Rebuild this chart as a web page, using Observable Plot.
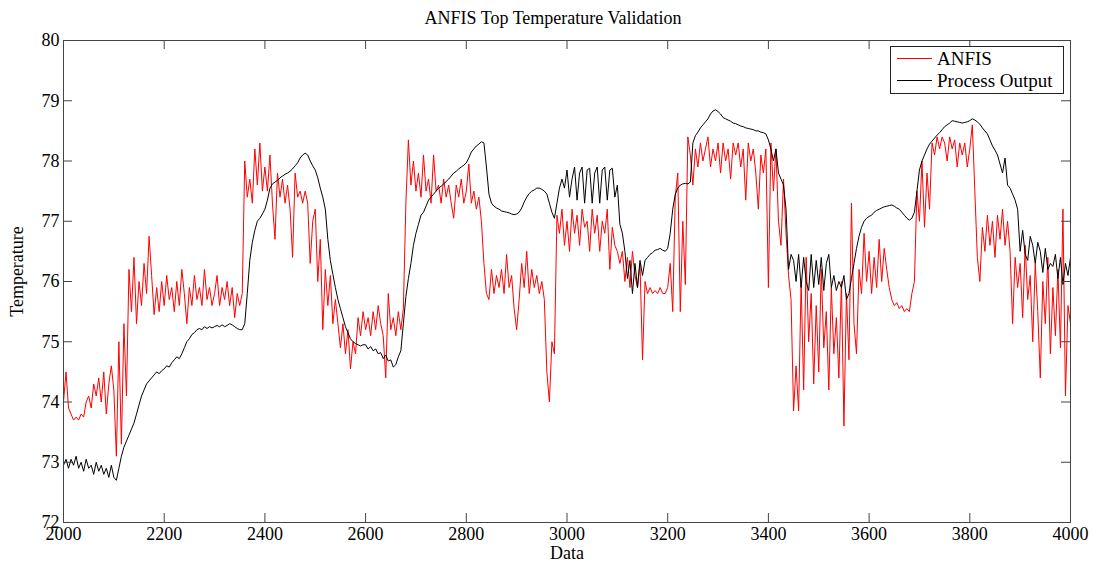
<!DOCTYPE html>
<html>
<head>
<meta charset="utf-8">
<script src="https://cdn.jsdelivr.net/npm/d3@7"></script>
<script src="https://cdn.jsdelivr.net/npm/@observablehq/plot@0.6"></script>
<style>
  html, body { margin: 0; padding: 0; background: #fff; }
  #chart svg { display: block; }
</style>
</head>
<body>
<div id="chart"></div>
<script>
// Samples are taken every 5 data points from 2000 to 4000
const xStart = 2000;
const xStep = 5;

// ANFIS model output (top temperature)
const anfis = [
  74.0, 74.5, 73.9, 73.8, 73.7, 73.75, 73.7, 73.8, 73.75, 74.0, 74.1, 73.9, 74.3, 74.1, 74.4, 74.0, 74.5, 73.8, 74.3, 74.6,
  74.2, 73.1, 75.0, 73.3, 75.3, 74.1, 76.2, 75.5, 76.4, 75.3, 76.0, 75.6, 76.3, 75.8, 76.75, 76.1, 75.45, 75.9, 75.5, 76.0,
  75.6, 76.1, 75.7, 75.9, 75.5, 76.0, 75.6, 76.2, 75.8, 75.3, 75.9, 75.6, 76.1, 75.7, 75.9, 75.6, 76.2, 75.7, 75.9, 75.6,
  75.8, 76.1, 75.6, 75.9, 75.7, 76.0, 75.6, 75.9, 75.4, 75.8, 75.6, 75.8, 78.0, 77.4, 77.7, 77.3, 78.2, 77.6, 78.3, 77.5,
  77.9, 77.5, 78.1, 77.3, 76.7, 77.8, 77.4, 77.7, 77.3, 77.6, 77.2, 76.4, 77.8, 77.4, 77.5, 77.3, 77.5, 77.3, 76.3, 77.0,
  77.2, 76.0, 76.7, 75.2, 76.2, 75.6, 76.1, 75.3, 75.7, 75.3, 74.9, 75.3, 74.8, 75.2, 74.55, 75.0, 74.8, 75.4, 75.1, 75.5,
  75.2, 75.4, 75.1, 75.5, 75.2, 75.6, 75.3, 75.1, 74.4, 75.8, 75.2, 75.4, 75.1, 75.5, 75.2, 75.55, 77.3, 78.35, 77.6, 78.0,
  77.5, 77.8, 77.4, 78.1, 77.5, 77.7, 77.3, 78.1, 77.5, 77.6, 77.3, 77.7, 77.4, 77.6, 77.3, 77.05, 77.6, 77.4, 77.7, 77.3,
  77.5, 77.95, 77.3, 77.5, 77.2, 77.4, 77.0, 76.3, 75.8, 75.7, 76.2, 75.8, 76.1, 75.9, 76.2, 75.8, 76.45, 75.9, 76.1, 75.55,
  75.2, 75.7, 76.3, 75.9, 76.5, 75.8, 76.2, 75.9, 76.1, 75.8, 76.0, 75.7, 74.5, 74.0, 75.0, 74.8, 77.1, 76.8, 77.2, 76.6,
  77.0, 76.5, 77.2, 76.8, 77.1, 76.6, 77.2, 76.9, 77.0, 76.5, 77.2, 76.8, 77.1, 76.5, 77.0, 76.8, 77.2, 76.2, 76.9, 76.6,
  76.5, 76.3, 76.5, 76.0, 76.4, 75.9, 76.5, 76.1, 75.9, 76.3, 74.7, 76.0, 75.8, 75.9, 75.8, 75.85, 75.8, 75.9, 75.8, 75.8,
  75.9, 76.3, 75.5, 77.4, 77.8, 75.5, 77.0, 75.95, 78.4, 78.1, 77.6, 78.2, 77.9, 78.3, 78.0, 78.2, 78.4, 77.9, 78.2, 78.0,
  78.3, 77.8, 78.3, 78.0, 78.2, 77.7, 78.3, 78.1, 78.3, 77.9, 78.2, 77.35, 78.3, 78.0, 78.2, 77.8, 77.2, 78.1, 77.8, 78.2,
  75.9, 78.3, 77.5, 78.2, 77.0, 76.6, 77.7, 76.8, 76.1, 75.7, 73.85, 74.6, 73.85, 76.0, 74.2, 76.4, 75.0, 75.8, 74.3, 75.6,
  74.5, 76.2, 74.9, 75.5, 74.2, 75.9, 74.8, 75.4, 74.4, 76.0, 73.6, 75.8, 74.7, 77.3, 75.3, 74.8, 76.2, 75.8, 76.8, 76.0,
  76.5, 75.8, 76.4, 75.9, 76.7, 76.0, 76.55, 76.2, 75.9, 75.7, 75.6, 75.65, 75.55, 75.6, 75.5, 75.55, 75.5, 75.8, 76.0, 77.5,
  77.0, 78.0, 76.9, 77.8, 77.2, 78.3, 78.1, 78.4, 78.2, 78.4, 78.3, 78.0, 78.4, 78.2, 78.35, 77.9, 78.3, 78.1, 78.3, 77.9,
  78.2, 78.6, 77.5, 76.4, 76.0, 76.9, 76.5, 77.1, 76.6, 77.0, 76.4, 77.1, 76.7, 77.2, 76.6, 77.0, 76.5, 75.3, 76.4, 75.9,
  76.3, 75.4, 76.6, 75.7, 76.1, 75.0, 76.3, 75.5, 74.4, 76.0, 75.3, 76.4, 74.8, 75.9, 75.1, 76.2, 74.9, 77.2, 74.1, 75.6, 75.3
];

// Measured process output (top temperature)
const processOutput = [
  72.95, 73.05, 72.9, 73.05, 72.95, 73.1, 72.9, 73.0, 72.85, 73.05, 72.9, 72.95, 72.8, 73.0, 72.85, 72.95, 72.8, 72.9, 72.75, 72.95,
  72.75, 72.7, 72.9, 73.1, 73.25, 73.35, 73.45, 73.55, 73.65, 73.8, 73.95, 74.1, 74.2, 74.3, 74.35, 74.4, 74.45, 74.5, 74.47, 74.52,
  74.55, 74.6, 74.58, 74.65, 74.7, 74.75, 74.72, 74.8, 74.9, 75.0, 75.05, 75.12, 75.15, 75.2, 75.22, 75.2, 75.25, 75.22, 75.25, 75.23,
  75.25, 75.27, 75.25, 75.28, 75.25, 75.27, 75.3, 75.28, 75.25, 75.22, 75.2, 75.2, 75.3, 75.8, 76.35, 76.65, 76.85, 77.0, 77.05, 77.12,
  77.2, 77.35, 77.55, 77.62, 77.65, 77.68, 77.72, 77.75, 77.78, 77.8, 77.83, 77.87, 77.92, 77.97, 78.05, 78.1, 78.13, 78.1, 78.0, 77.92,
  77.85, 77.72, 77.55, 77.4, 77.2, 76.7, 76.35, 76.12, 75.9, 75.7, 75.55, 75.4, 75.25, 75.15, 75.05, 75.0, 74.97, 74.95, 74.93, 74.95,
  74.95, 74.88, 74.92, 74.85, 74.88, 74.8, 74.82, 74.72, 74.78, 74.68, 74.7, 74.58, 74.62, 74.75, 74.85, 75.3, 75.75, 76.05, 76.3, 76.6,
  76.8, 76.95, 77.1, 77.15, 77.25, 77.35, 77.4, 77.45, 77.5, 77.55, 77.58, 77.62, 77.66, 77.7, 77.75, 77.8, 77.83, 77.87, 77.9, 77.93,
  77.97, 78.05, 78.15, 78.2, 78.25, 78.28, 78.32, 78.3, 77.9, 77.45, 77.3, 77.25, 77.22, 77.2, 77.17, 77.16, 77.15, 77.14, 77.12, 77.11,
  77.12, 77.15, 77.22, 77.32, 77.4, 77.46, 77.5, 77.52, 77.55, 77.55, 77.53, 77.5, 77.45, 77.3, 77.15, 77.05, 77.3, 77.55, 77.7, 77.55,
  77.85, 77.4, 77.7, 77.9, 77.35, 77.8, 77.9, 77.3, 77.85, 77.88, 77.3, 77.8, 77.9, 77.3, 77.85, 77.9, 77.35, 77.85, 77.88, 77.4,
  77.6, 76.95, 76.8, 76.5, 76.05, 76.35, 75.8, 76.3, 75.9, 76.35, 76.1, 76.35, 76.4, 76.45, 76.48, 76.52, 76.53, 76.55, 76.52, 76.5,
  76.55, 76.8, 77.2, 77.45, 77.55, 77.6, 77.62, 77.63, 77.62, 77.65, 78.3, 78.42, 78.48, 78.55, 78.6, 78.65, 78.7, 78.78, 78.83, 78.85,
  78.82, 78.78, 78.72, 78.7, 78.68, 78.66, 78.63, 78.62, 78.6, 78.58, 78.57, 78.55, 78.54, 78.53, 78.52, 78.5, 78.5, 78.48, 78.47, 78.45,
  78.35, 78.2, 78.0, 78.2, 77.8, 77.7, 77.6, 77.2, 76.2, 76.45, 76.35, 76.0, 76.45, 75.9, 76.4, 76.0, 75.85, 76.45, 75.9, 76.35,
  75.95, 76.4, 75.85, 76.3, 76.45, 75.9, 76.1, 75.85, 76.0, 75.9, 76.1, 75.7, 75.8, 76.05, 76.3, 76.55, 76.75, 76.9, 77.0, 77.05,
  77.08, 77.1, 77.15, 77.18, 77.2, 77.22, 77.24, 77.25, 77.26, 77.27, 77.25, 77.22, 77.2, 77.15, 77.1, 77.05, 77.02, 77.05, 77.15, 77.5,
  77.85, 78.0, 78.1, 78.2, 78.28, 78.33, 78.38, 78.43, 78.47, 78.52, 78.57, 78.6, 78.63, 78.67, 78.66, 78.65, 78.64, 78.63, 78.64, 78.65,
  78.67, 78.7, 78.68, 78.65, 78.61, 78.55, 78.5, 78.45, 78.35, 78.25, 78.18, 78.1, 77.95, 77.8, 78.05, 77.6, 77.55, 77.45, 77.35, 77.2,
  76.5, 76.85, 76.45, 76.35, 76.75, 76.6, 76.3, 76.65, 76.5, 76.15, 76.55, 76.2, 76.3, 76.25, 76.45, 76.05, 76.4, 75.95, 76.3, 76.1, 76.4
];

const xTicks = [2000, 2200, 2400, 2600, 2800, 3000, 3200, 3400, 3600, 3800, 4000];
const yTicks = [72, 73, 74, 75, 76, 77, 78, 79, 80];
const seriesNames = ["ANFIS", "Process Output"];
const seriesColors = ["#ff0000", "#000000"];
const titleText = "ANFIS Top Temperature Validation";
const xLabel = "Data";
const yLabel = "Temperature";

const rows = anfis.map((v, i) => ({
  x: xStart + i * xStep,
  anfis: v,
  process: processOutput[i]
}));

const W = 1093, H = 563;
const mT = 40, mR = 23, mB = 41, mL = 63;
const frameW = W - mL - mR, frameH = H - mT - mB;
const tickLen = 9;
const axisColor = "#444";
const font = "'Liberation Serif', 'Times New Roman', Times, serif";

const chart = Plot.plot({
  width: W,
  height: H,
  marginTop: mT,
  marginRight: mR,
  marginBottom: mB,
  marginLeft: mL,
  style: { fontFamily: font, fontSize: "18px", background: "#fff", color: "#000", overflow: "visible" },
  x: { domain: [2000, 4000] },
  y: { domain: [72, 80] },
  marks: [
    Plot.line(rows, { x: "x", y: "anfis", stroke: seriesColors[0], strokeWidth: 1 }),
    Plot.line(rows, { x: "x", y: "process", stroke: seriesColors[1], strokeWidth: 1 }),
    Plot.frame({ stroke: axisColor, strokeWidth: 1 }),
    // inward ticks on all four sides of the box
    Plot.tickX(xTicks, { x: d => d, insetTop: frameH - tickLen, stroke: axisColor }),
    Plot.tickX(xTicks, { x: d => d, insetBottom: frameH - tickLen, stroke: axisColor }),
    Plot.tickY(yTicks, { y: d => d, insetRight: frameW - tickLen, stroke: axisColor }),
    Plot.tickY(yTicks, { y: d => d, insetLeft: frameW - tickLen, stroke: axisColor }),
    Plot.axisX(xTicks, { tickSize: 0, tickPadding: 5, tickFormat: d => String(d), label: null, fontSize: 18, fill: "#000" }),
    Plot.axisY(yTicks, { tickSize: 0, tickPadding: 4, tickFormat: d => String(d), label: null, fontSize: 18, fill: "#000" }),
    Plot.text([xLabel], { text: d => d, frameAnchor: "bottom", lineAnchor: "middle", textAnchor: "middle", dy: 31, fontSize: 18, fill: "#000" }),
    Plot.text([yLabel], { text: d => d, frameAnchor: "left", lineAnchor: "middle", textAnchor: "middle", rotate: -90, dx: -46, dy: -10, fontSize: 18, fill: "#000" }),
    Plot.text([titleText], { text: d => d, frameAnchor: "top", lineAnchor: "middle", textAnchor: "middle", dx: -14, dy: -22, fontSize: 18, fill: "#000" })
  ]
});

// Legend box in the upper right corner
const svg = d3.select(chart);
const lg = svg.append("g")
  .attr("font-family", font)
  .attr("font-size", 19)
  .attr("text-anchor", "start");
lg.append("rect")
  .attr("x", 890.5).attr("y", 46.5).attr("width", 173).attr("height", 47)
  .attr("fill", "#fff").attr("stroke", "#222").attr("stroke-width", 1);
seriesNames.forEach((name, i) => {
  const cy = 58.5 + i * 22;
  lg.append("line")
    .attr("x1", 897).attr("x2", 932).attr("y1", cy).attr("y2", cy)
    .attr("stroke", seriesColors[i]).attr("stroke-width", 1);
  lg.append("text")
    .attr("x", 937).attr("y", cy + 6.5)
    .attr("text-anchor", "start")
    .attr("fill", "#000")
    .text(name);
});

document.getElementById("chart").appendChild(chart);
</script>
</body>
</html>
